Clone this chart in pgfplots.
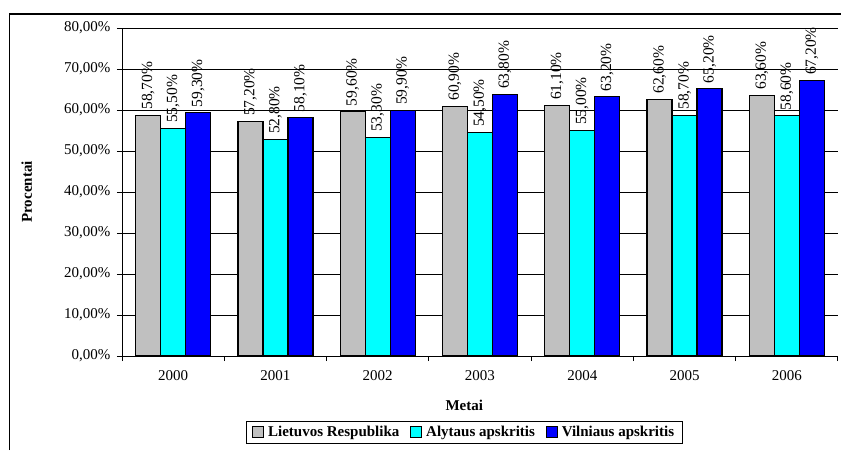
\documentclass[border=0pt]{standalone}
\usepackage{pgfplots}
\pgfplotsset{compat=1.18}
\usepackage{fontspec}
\setmainfont{Liberation Serif}
\definecolor{cgray}{HTML}{C0C0C0}
\definecolor{ccyan}{HTML}{00FFFF}
\definecolor{cblue}{HTML}{0000FF}
\begin{document}
\begin{tikzpicture}
\draw[line width=1.5pt] (9.5pt,0pt) -- (9.5pt,436pt) -- (841pt,436pt);
\begin{axis}[
  at={(122pt,94pt)}, anchor=south west,
  scale only axis, width=716pt, height=328pt,
  xmin=-0.5, xmax=6.5, ymin=0, ymax=80,
  axis x line*=bottom, axis y line*=left,
  axis line style={line width=1pt,-},
  ybar=0pt, bar width=25pt,
  /pgf/number format/assume math mode=true,
  font=\fontsize{15}{17}\selectfont,
  xtick={0,...,6},
  xticklabels={2000,2001,2002,2003,2004,2005,2006},
  major x tick style={draw=none},
  minor xtick={-0.5,0.5,...,6.5},
  minor tick length=5pt,
  minor x tick style={black,line width=1pt},
  xticklabel style={yshift=-6pt},
  ytick={0,10,...,80},
  yticklabels={{0,00\%},{10,00\%},{20,00\%},{30,00\%},{40,00\%},{50,00\%},{60,00\%},{70,00\%},{80,00\%}},
  yticklabel style={xshift=-3pt},
  major tick length=5pt,
  tick align=outside,
  tick style={black,line width=1pt},
  ymajorgrids, grid style={black,line width=1pt},
  xlabel={\textbf{Metai}},
  ylabel={\textbf{Procentai}},
  xlabel style={at={(axis description cs:0.478,-0.15)},anchor=center},
  ylabel style={at={(axis description cs:-0.133,0.5)},anchor=center},
  nodes near coords={\pgfmathprintnumber[fixed,fixed zerofill,precision=2,use comma]{\pgfplotspointmeta}\%},
  every node near coord/.append style={rotate=90,anchor=west,inner sep=5pt,font=\fontsize{15.5}{17}\selectfont},
  legend style={at={(0.478,-0.198)},anchor=north,legend columns=-1,draw=black,line width=1pt,
    font=\fontsize{15}{17}\selectfont\bfseries,inner xsep=6pt,inner ysep=3pt,
    /tikz/every odd column/.append style={column sep=2pt},
    /tikz/every even column/.append style={column sep=9pt}},
  legend image code/.code={\draw[#1,line width=0.8pt] (0pt,-5.5pt) rectangle (11pt,5.5pt);},
]
\addplot[draw=black,line width=1.2pt,fill=cgray] coordinates {(0,58.7) (1,57.2) (2,59.6) (3,60.9) (4,61.1) (5,62.6) (6,63.6)};
\addplot[draw=black,line width=1.2pt,fill=ccyan] coordinates {(0,55.5) (1,52.8) (2,53.3) (3,54.5) (4,55.0) (5,58.7) (6,58.6)};
\addplot[draw=black,line width=1.2pt,fill=cblue] coordinates {(0,59.3) (1,58.1) (2,59.9) (3,63.8) (4,63.2) (5,65.2) (6,67.2)};
\legend{Lietuvos Respublika,Alytaus apskritis,Vilniaus apskritis}
\end{axis}
\pgfresetboundingbox
\path[use as bounding box] (0pt,0pt) rectangle (841pt,450pt);
\end{tikzpicture}
\end{document}
